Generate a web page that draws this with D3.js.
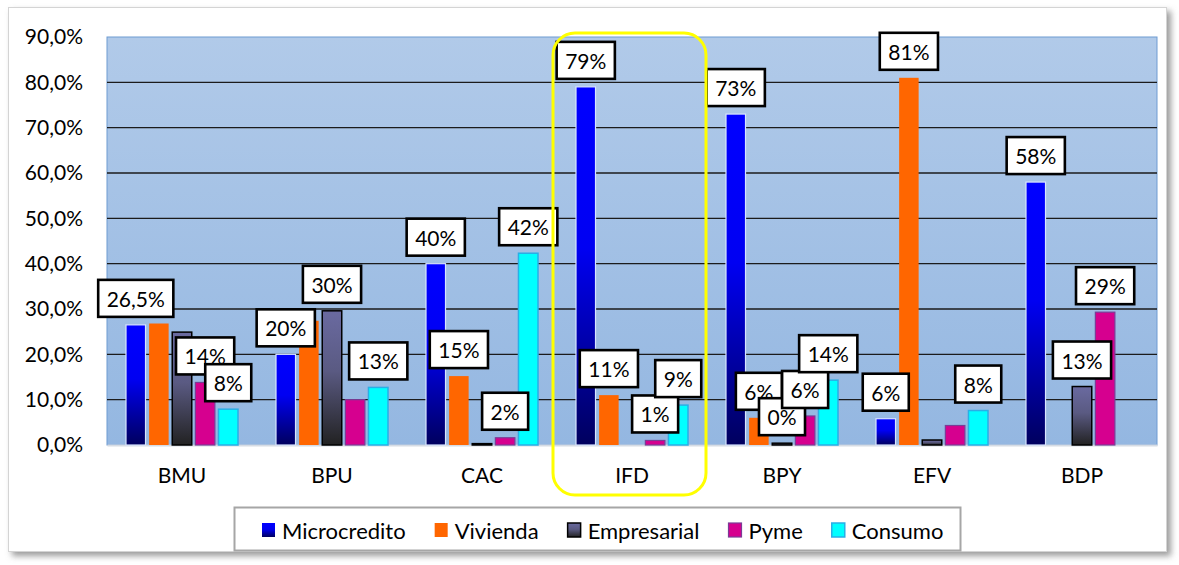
<!DOCTYPE html>
<html><head><meta charset="utf-8">
<script src="https://cdn.jsdelivr.net/npm/d3@7"></script>
<style>html,body{margin:0;padding:0;background:#fff;}svg{display:block;font-family:Lato,"Open Sans",sans-serif;}</style>
</head><body>
<script>
// ---- DATA ----
const categories = ["BMU","BPU","CAC","IFD","BPY","EFV","BDP"];
const seriesNames = ["Microcredito","Vivienda","Empresarial","Pyme","Consumo"];
const microcredito = [26.5, 20, 40, 79, 73, 5.8, 58];
const vivienda     = [26.8, 27.4, 15.2, 11, 6, 81, 0];
const empresarial  = [24.9, 29.6, 0.3, 0, 0.4, 1.1, 12.9];
const pyme         = [13.8, 10, 1.6, 1, 6.4, 4.3, 29.3];
const consumo      = [7.9, 12.7, 42.3, 8.8, 14.3, 7.6, 0];
const microLabels       = ["26,5%","20%","40%","79%","73%","6%","58%"];
const viviendaLabels    = [null,null,"15%","11%","6%","81%",null];
const empresarialLabels = [null,"30%",null,null,"0%",null,"13%"];
const pymeLabels        = ["14%",null,"2%","1%","6%",null,"29%"];
const consumoLabels     = ["8%","13%","42%","9%","14%","8%",null];
const yTicks = [0,10,20,30,40,50,60,70,80,90];
const highlightCategory = "IFD";

const seriesValues = [microcredito, vivienda, empresarial, pyme, consumo];
const seriesLabels = [microLabels, viviendaLabels, empresarialLabels, pymeLabels, consumoLabels];

// ---- STYLES ----
const W = 1179, H = 565;
const styles = {
  "Microcredito": {fill:"url(#gMicro)", stroke:"#D8E4FF", sw:1.2},
  "Vivienda":     {fill:"#FF6600", stroke:"none", sw:0},
  "Empresarial":  {fill:"url(#gEmp)", stroke:"#000000", sw:1.5},
  "Pyme":         {fill:"#D6008F", stroke:"#7A3C96", sw:1.2},
  "Consumo":      {fill:"#00FFFF", stroke:"#2AAEE6", sw:1.5}
};

const svg = d3.select("body").append("svg").attr("width", W).attr("height", H);
const defs = svg.append("defs");
const f = defs.append("filter").attr("id","shadow").attr("x","-5%").attr("y","-5%").attr("width","110%").attr("height","115%");
f.append("feDropShadow").attr("dx",4).attr("dy",4).attr("stdDeviation",3).attr("flood-color","#7a7a7a").attr("flood-opacity",0.75);

const gm = defs.append("linearGradient").attr("id","gMicro").attr("x1",0).attr("y1",0).attr("x2",0).attr("y2",1);
gm.append("stop").attr("offset","0%").attr("stop-color","#0000FF");
gm.append("stop").attr("offset","45%").attr("stop-color","#0000F2");
gm.append("stop").attr("offset","100%").attr("stop-color","#00005E");
const ge = defs.append("linearGradient").attr("id","gEmp").attr("x1",0).attr("y1",0).attr("x2",0).attr("y2",1);
ge.append("stop").attr("offset","0%").attr("stop-color","#6A6AA0");
ge.append("stop").attr("offset","45%").attr("stop-color","#5A5A82");
ge.append("stop").attr("offset","100%").attr("stop-color","#222222");
const gb = defs.append("linearGradient").attr("id","gBg").attr("x1",0).attr("y1",0).attr("x2",0).attr("y2",1);
gb.append("stop").attr("offset","0%").attr("stop-color","#B1CAE9");
gb.append("stop").attr("offset","100%").attr("stop-color","#94B7E1");

// outer chart area
svg.append("rect").attr("x",8.5).attr("y",7.5).attr("width",1158).attr("height",544)
  .attr("fill","#fff").attr("stroke","#D4D4D4").attr("stroke-width",1).attr("filter","url(#shadow)");

// scales
const x0 = d3.scaleBand().domain(categories).range([107,1157]).padding(0);
const x1 = d3.scaleBand().domain(seriesNames).range([19,131]).paddingInner(0.156).paddingOuter(0);
const y = d3.scaleLinear().domain([0,90]).range([445,37]);

// plot area
svg.append("rect").attr("x",107).attr("y",y(90)).attr("width",1050).attr("height",y(0)-y(90))
  .attr("fill","url(#gBg)").attr("stroke","#6E9BD2").attr("stroke-width",1);

// gridlines
svg.append("g").selectAll("line").data(yTicks.filter(d=>d>0 && d<90)).join("line")
  .attr("x1",107).attr("x2",1157).attr("y1",d=>y(d)).attr("y2",d=>y(d))
  .attr("stroke","#1b1b1b").attr("stroke-width",1.3);

// y axis
const ya = svg.append("g").attr("transform","translate(107,0)")
  .call(d3.axisLeft(y).tickValues(yTicks).tickSize(0).tickPadding(24)
    .tickFormat(d=>d.toFixed(1).replace(".",",")+"%"));
ya.select(".domain").remove();
ya.selectAll("text").attr("font-size",21).attr("fill","#000").attr("font-family","Lato");

// x axis
const xa = svg.append("g").attr("transform","translate(0,445)")
  .call(d3.axisBottom(x0).tickSize(0).tickPadding(23));
xa.select(".domain").attr("stroke","#D6DCE4").attr("stroke-width",2);
xa.selectAll("text").attr("font-size",21).attr("fill","#000").attr("font-family","Lato");

// bars
const rows = [];
seriesNames.forEach((s,i)=>{
  categories.forEach((c,j)=>{
    rows.push({series:s, cat:c, value:seriesValues[i][j], label:seriesLabels[i][j]});
  });
});
const bw = x1.bandwidth();
svg.append("g").selectAll("rect").data(rows.filter(d=>d.value>0)).join("rect")
  .attr("x",d=>x0(d.cat)+x1(d.series))
  .attr("y",d=>y(d.value))
  .attr("width",bw)
  .attr("height",d=>y(0)-y(d.value))
  .attr("fill",d=>styles[d.series].fill)
  .attr("stroke",d=>styles[d.series].stroke)
  .attr("stroke-width",d=>styles[d.series].sw);

// data labels
const lg = svg.append("g");
rows.filter(d=>d.label).forEach(d=>{
  const cx = x0(d.cat)+x1(d.series)+bw/2;
  const top = y(d.value);
  const g = lg.append("g");
  const r = g.append("rect");
  const t = g.append("text").attr("x",cx).attr("y",top-8-18.5)
    .attr("text-anchor","middle").attr("dominant-baseline","central")
    .attr("font-size",21).attr("font-family","Lato").attr("fill","#000").text(d.label);
  const tw = t.node().getComputedTextLength();
  const w = tw+17;
  r.attr("x",cx-w/2).attr("y",top-8-37).attr("width",w).attr("height",37)
   .attr("fill","#fff").attr("stroke","#000").attr("stroke-width",2.6);
});

// highlight
const hx = x0(highlightCategory);
svg.append("rect").attr("x",hx-4).attr("y",33).attr("width",153).attr("height",462)
  .attr("rx",22).attr("ry",22).attr("fill","none").attr("stroke","#FFFF00").attr("stroke-width",3);

// legend
svg.append("rect").attr("x",234.5).attr("y",507.5).attr("width",726).attr("height",43)
  .attr("fill","#fff").attr("stroke","#A6A6A6").attr("stroke-width",2);
let lx = 262;
seriesNames.forEach(s=>{
  const st = styles[s];
  svg.append("rect").attr("x",lx).attr("y",523).attr("width",13).attr("height",14)
    .attr("fill",st.fill).attr("stroke",st.stroke==="#D8E4FF"?"none":st.stroke).attr("stroke-width",st.sw);
  const t = svg.append("text").attr("x",lx+20).attr("y",530).attr("dominant-baseline","central")
    .attr("font-size",22).attr("font-family","Lato").attr("fill","#000").text(s);
  lx = lx+20+t.node().getComputedTextLength()+29;
});
</script>
</body></html>
